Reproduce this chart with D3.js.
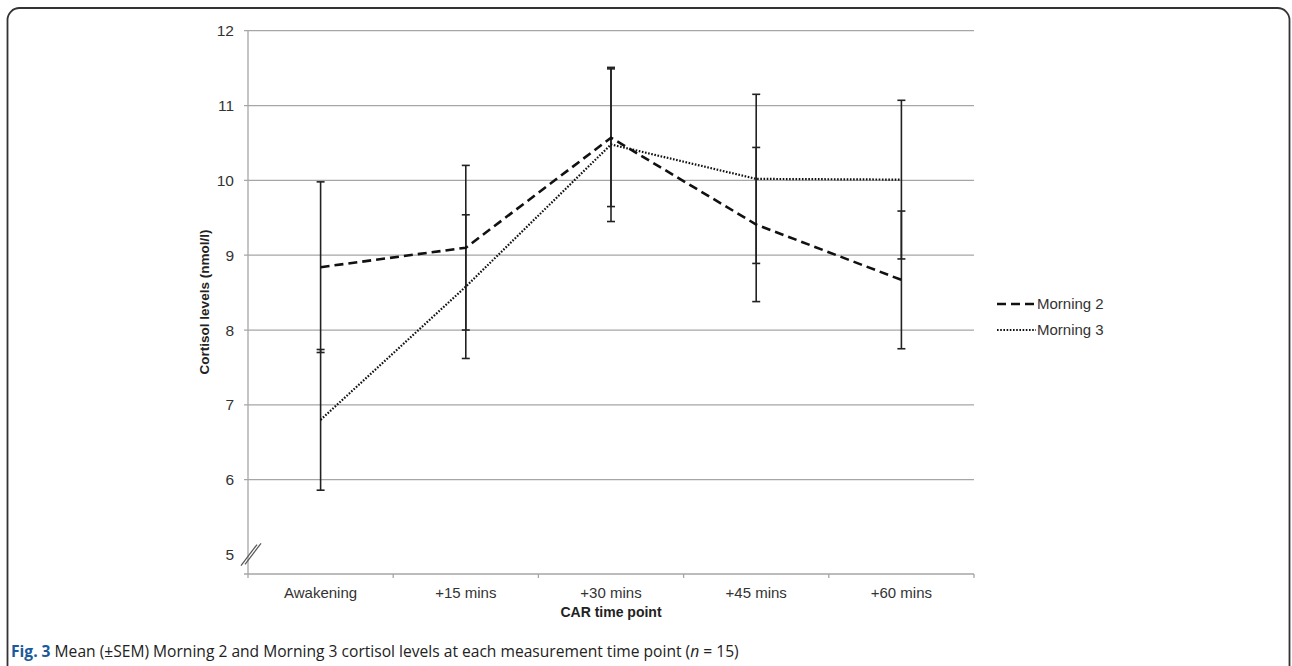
<!DOCTYPE html>
<html><head><meta charset="utf-8">
<script src="https://cdn.jsdelivr.net/npm/d3@7"></script>
<style>html,body{margin:0;padding:0;background:#fff;}svg{display:block;}</style>
</head><body>
<script>
const categories = ["Awakening", "+15 mins", "+30 mins", "+45 mins", "+60 mins"];
const morning2 = [8.84, 9.10, 10.57, 9.41, 8.67];
const morning2Sem = [1.14, 1.10, 0.92, 1.03, 0.92];
const morning3 = [6.80, 8.58, 10.48, 10.02, 10.01];
const morning3Sem = [0.94, 0.96, 1.03, 1.13, 1.06];
const yTicks = [5, 6, 7, 8, 9, 10, 11, 12];
const seriesNames = ["Morning 2", "Morning 3"];

(function () {
const W = 1292, H = 666;
const svg = d3.select("body").append("svg").attr("width", W).attr("height", H);
const FONT = "Liberation Sans, Arial, sans-serif";

// frame
svg.append("rect").attr("x", 7.5).attr("y", 8).attr("width", 1282).attr("height", 700)
  .attr("rx", 12).attr("fill", "none").attr("stroke", "#333").attr("stroke-width", 1.8);

const pL = 248, pR = 974, pT = 30.7, pB = 574;
const x = d3.scaleBand().domain(categories).range([pL, pR]);
const y = d3.scaleLinear().domain([4.74, 12]).range([pB, pT]);
const cx = d => x(d) + x.bandwidth() / 2;

// gridlines
svg.append("g").selectAll("line").data(yTicks.filter(t => t > 5)).join("line")
  .attr("x1", pL - 4).attr("x2", pR).attr("y1", d => y(d)).attr("y2", d => y(d))
  .attr("stroke", "#a6a6a6").attr("stroke-width", 1.3);

// y axis line
svg.append("line").attr("x1", pL).attr("x2", pL).attr("y1", pT).attr("y2", pB)
  .attr("stroke", "#a6a6a6").attr("stroke-width", 1.3);
// x axis line
svg.append("line").attr("x1", pL - 4).attr("x2", pR).attr("y1", pB).attr("y2", pB)
  .attr("stroke", "#a6a6a6").attr("stroke-width", 1.3);
// x ticks at band edges
const edges = categories.map(c => x(c)).concat([pR]);
svg.append("g").selectAll("line").data(edges).join("line")
  .attr("x1", d => d).attr("x2", d => d).attr("y1", pB).attr("y2", pB + 4)
  .attr("stroke", "#a6a6a6").attr("stroke-width", 1.3);

// y tick labels
svg.append("g").selectAll("text").data(yTicks).join("text")
  .attr("x", pL - 14).attr("y", d => y(d)).attr("dy", "0.36em")
  .attr("text-anchor", "end").attr("font-family", FONT)
  .attr("font-size", 15.5).attr("fill", "#333").text(d => d);

// axis break marks
const by = y(5);
[0, 4].forEach(o => {
  svg.append("line").attr("x1", pL - 7 + o).attr("y1", by + 11 - o * 0.3)
    .attr("x2", pL + 9 + o).attr("y2", by - 10 - o * 0.3)
    .attr("stroke", "#555").attr("stroke-width", 1.2);
});

// x tick labels
svg.append("g").selectAll("text").data(categories).join("text")
  .attr("x", d => cx(d)).attr("y", 598).attr("text-anchor", "middle")
  .attr("font-family", FONT).attr("font-size", 15)
  .attr("fill", "#333").text(d => d);

// axis titles
svg.append("text").attr("x", (pL + pR) / 2).attr("y", 617).attr("text-anchor", "middle")
  .attr("font-family", FONT).attr("font-size", 14)
  .attr("font-weight", "bold").attr("fill", "#222").text("CAR time point");
svg.append("text").attr("transform", `translate(209,302) rotate(-90)`)
  .attr("text-anchor", "middle").attr("font-family", FONT)
  .attr("font-size", 13.5).attr("font-weight", "bold").attr("fill", "#222")
  .text("Cortisol levels (nmol/l)");

// error bars
function errBars(vals, sems) {
  const g = svg.append("g");
  categories.forEach((c, i) => {
    const lo = vals[i] - sems[i], hi = vals[i] + sems[i];
    g.append("line").attr("x1", cx(c)).attr("x2", cx(c)).attr("y1", y(lo)).attr("y2", y(hi))
      .attr("stroke", "#222").attr("stroke-width", 1.6);
    [lo, hi].forEach(v => g.append("line").attr("x1", cx(c) - 4).attr("x2", cx(c) + 4)
      .attr("y1", y(v)).attr("y2", y(v)).attr("stroke", "#222").attr("stroke-width", 1.6));
  });
}
errBars(morning2, morning2Sem);
errBars(morning3, morning3Sem);

const line = d3.line().x((d, i) => cx(categories[i])).y(d => y(d));
svg.append("path").datum(morning2).attr("d", line).attr("fill", "none")
  .attr("stroke", "#111").attr("stroke-width", 2.6).attr("stroke-dasharray", "9,5");
svg.append("path").datum(morning3).attr("d", line).attr("fill", "none")
  .attr("stroke", "#111").attr("stroke-width", 2.2).attr("stroke-dasharray", "1.6,1.6");

// legend
const lg = svg.append("g");
const lys = [304, 330];
const styles = [{w: 2.6, da: "9,5"}, {w: 2.2, da: "1.6,1.6"}];
seriesNames.forEach((n, i) => {
  lg.append("line").attr("x1", 997).attr("x2", 1036).attr("y1", lys[i]).attr("y2", lys[i])
    .attr("stroke", "#111").attr("stroke-width", styles[i].w).attr("stroke-dasharray", styles[i].da);
  lg.append("text").attr("x", 1037).attr("y", lys[i]).attr("dy", "0.36em")
    .attr("font-family", FONT).attr("font-size", 15)
    .attr("fill", "#333").text(n);
});

// caption
const cap = svg.append("text").attr("x", 11).attr("y", 657)
  .attr("font-family", "Open Sans, sans-serif").attr("font-size", 15.6).attr("fill", "#222");
cap.append("tspan").attr("font-weight", "bold").attr("fill", "#1a5a9c").text("Fig. 3");
cap.append("tspan").text(" Mean (±SEM) Morning 2 and Morning 3 cortisol levels at each measurement time point (");
cap.append("tspan").attr("font-style", "italic").text("n");
cap.append("tspan").text(" = 15)");
})();
</script>
</body></html>
